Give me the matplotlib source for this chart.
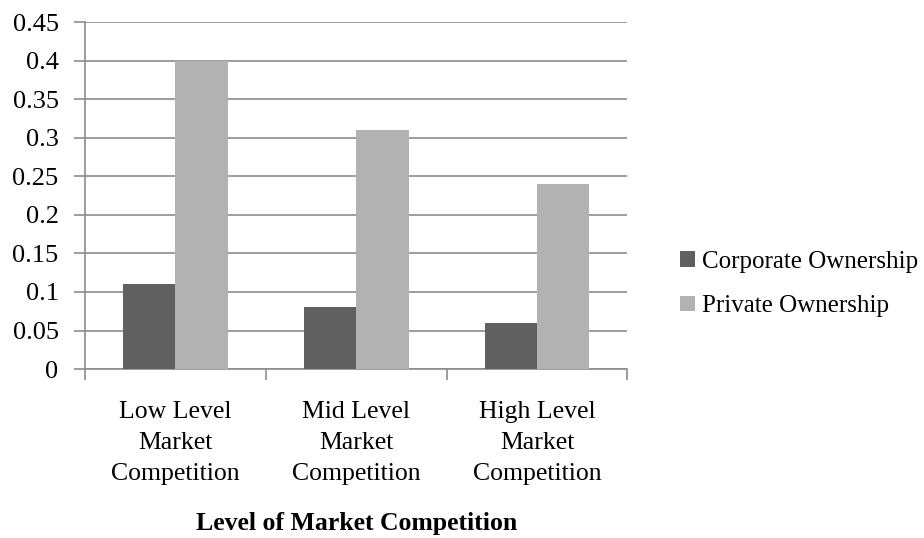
import matplotlib.pyplot as plt
import numpy as np

categories = ["Low Level\nMarket\nCompetition", "Mid Level\nMarket\nCompetition", "High Level\nMarket\nCompetition"]
corporate = [0.11, 0.08, 0.06]
private = [0.40, 0.31, 0.24]
yticks = [0, 0.05, 0.1, 0.15, 0.2, 0.25, 0.3, 0.35, 0.4, 0.45]
ytick_labels = ["0", "0.05", "0.1", "0.15", "0.2", "0.25", "0.3", "0.35", "0.4", "0.45"]

plt.rcParams['font.family'] = ['Liberation Serif', 'DejaVu Serif']

fig = plt.figure(figsize=(9.24, 5.38), dpi=100)
ax = fig.add_axes([0.092, 0.314, 0.587, 0.645])

x = np.arange(len(categories))
w = 0.29
ax.bar(x - w/2, corporate, w, color="#606060", label="Corporate Ownership", zorder=3)
ax.bar(x + w/2, private, w, color="#b2b2b2", label="Private Ownership", zorder=3)

ax.set_xlim(-0.5, 2.5)
ax.set_ylim(0, 0.45)
ax.set_yticks(yticks)
ax.set_yticklabels(ytick_labels, fontsize=19)
ax.yaxis.grid(True, color="#8c8c8c", linewidth=1.2, zorder=0)
ax.set_axisbelow(True)

ax.set_xticks([-0.5, 0.5, 1.5, 2.5])
ax.set_xticklabels([])
ax.set_xticks(x, minor=True)
ax.set_xticklabels(categories, minor=True, fontsize=18.5, linespacing=1.52)
ax.tick_params(axis="x", which="minor", length=0, pad=23)
ax.tick_params(axis="x", which="major", length=8, color="#8c8c8c", width=1.2)
ax.tick_params(axis="y", length=8, color="#8c8c8c", width=1.2, pad=11)

for s in ["top", "right"]:
    ax.spines[s].set_visible(False)
for s in ["left", "bottom"]:
    ax.spines[s].set_color("#8c8c8c")
    ax.spines[s].set_linewidth(1.2)

ax.set_xlabel("Level of Market Competition", fontsize=18.5, fontweight="bold", labelpad=20)

fig.legend(loc="center left", bbox_to_anchor=(0.712, 0.472), frameon=False, fontsize=18,
           handlelength=0.6, handleheight=0.6, handletextpad=0.25, labelspacing=0.9)

fig.savefig("out.png", dpi=100)
